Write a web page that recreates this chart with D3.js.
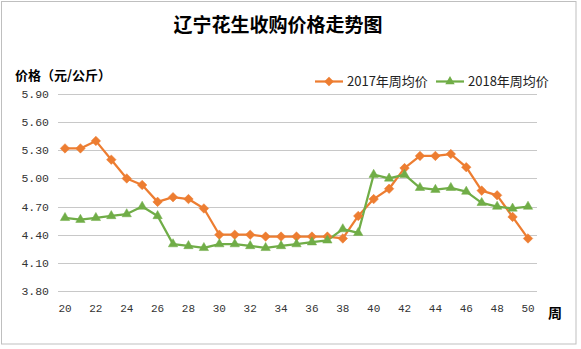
<!DOCTYPE html>
<html><head><meta charset="utf-8">
<script src="https://cdn.jsdelivr.net/npm/d3@7"></script>
<style>body{margin:0;background:#fff}svg{display:block}</style>
</head><body>
<svg id="c" width="581" height="349"></svg>
<script>
const weeks = d3.range(20, 51);
const price2017 = [5.32,5.32,5.40,5.20,5.00,4.93,4.75,4.80,4.78,4.68,4.40,4.40,4.40,4.38,4.38,4.38,4.38,4.38,4.36,4.60,4.78,4.89,5.11,5.24,5.24,5.26,5.12,4.87,4.82,4.59,4.36];
const price2018 = [4.58,4.56,4.58,4.60,4.62,4.70,4.60,4.30,4.28,4.26,4.30,4.30,4.28,4.26,4.28,4.30,4.32,4.34,4.46,4.42,5.04,5.00,5.04,4.90,4.88,4.90,4.86,4.74,4.70,4.68,4.70];
const yTicks = [3.80,4.10,4.40,4.70,5.00,5.30,5.60,5.90];
const xTicks = d3.range(20, 51, 2);
const seriesNames = ["2017年周均价","2018年周均价"];
const colors = ["#ED7D31","#70AD47"];

const svg = d3.select("#c");
svg.append("rect").attr("x",1.5).attr("y",1.5).attr("width",574.5).attr("height",342.5)
  .attr("fill","#fff").attr("stroke","#bfbfbf").attr("stroke-width",1);

const x = d3.scaleLinear().domain([20,50]).range([65,528]);
const y = d3.scaleLinear().domain([3.8,5.9]).range([291,94]);
const gx0 = 58, gx1 = 537;

// gridlines
svg.append("g").selectAll("line").data(yTicks).join("line")
  .attr("x1",gx0).attr("x2",gx1).attr("y1",d=>Math.round(y(d))+0.5).attr("y2",d=>Math.round(y(d))+0.5)
  .attr("stroke","#c8c8c8").attr("stroke-width",1);

// y labels
svg.append("g").selectAll("text").data(yTicks).join("text")
  .attr("x",49).attr("y",d=>y(d)+4).attr("text-anchor","end")
  .attr("font-family","Liberation Mono, monospace").attr("font-size",11.5).attr("fill","#333")
  .text(d=>d.toFixed(2));

// x labels
svg.append("g").selectAll("text").data(xTicks).join("text")
  .attr("x",d=>x(d)).attr("y",312).attr("text-anchor","middle")
  .attr("font-family","Liberation Mono, monospace").attr("font-size",11).attr("fill","#333")
  .text(d=>d);

// title
svg.append("text").attr("x",278).attr("y",32).attr("text-anchor","middle")
  .attr("font-family","Noto Sans CJK SC").attr("font-weight","bold").attr("font-size",19).attr("fill","#000")
  .text("辽宁花生收购价格走势图");
svg.append("text").attr("x",15).attr("y",79.5)
  .attr("font-family","Noto Sans CJK SC").attr("font-weight","bold").attr("font-size",13).attr("fill","#000")
  .text("价格（元/公斤）");
svg.append("text").attr("x",548).attr("y",318)
  .attr("font-family","Noto Sans CJK SC").attr("font-weight","bold").attr("font-size",14).attr("fill","#000")
  .text("周");

const line = d3.line().x(d=>x(d[0])).y(d=>y(d[1]));
const data = [price2017, price2018].map(arr => weeks.map((w,i)=>[w,arr[i]]));
const diamond = d3.symbol().type(d3.symbolDiamond2).size(58);
const tri = d3.symbol().type(d3.symbolTriangle).size(38);

data.forEach((pts,k)=>{
  svg.append("path").attr("d",line(pts)).attr("fill","none").attr("stroke",colors[k])
    .attr("stroke-width",2.25).attr("stroke-linejoin","round");
});
data.forEach((pts,k)=>{
  svg.append("g").selectAll("path").data(pts).join("path")
    .attr("transform",d=>`translate(${x(d[0])},${y(d[1])})`)
    .attr("d",k===0?diamond():tri()).attr("fill",colors[k]).attr("stroke",colors[k]).attr("stroke-width",0.5);
});

// legend
const ly = 81.5;
const leg = [{x1:315,x2:343,tx:347},{x1:436,x2:464,tx:468}];
leg.forEach((l,k)=>{
  const g = svg.append("g");
  g.append("line").attr("x1",l.x1).attr("x2",l.x2).attr("y1",ly).attr("y2",ly)
    .attr("stroke",colors[k]).attr("stroke-width",2.25);
  g.append("path").attr("transform",`translate(${(l.x1+l.x2)/2},${ly})`)
    .attr("d",k===0?diamond():tri()).attr("fill",colors[k]);
  g.append("text").attr("x",l.tx).attr("y",ly+4.5)
    .attr("font-family","Noto Sans CJK SC").attr("font-size",13).attr("fill","#222")
    .text(seriesNames[k]);
});
</script>
</body></html>
